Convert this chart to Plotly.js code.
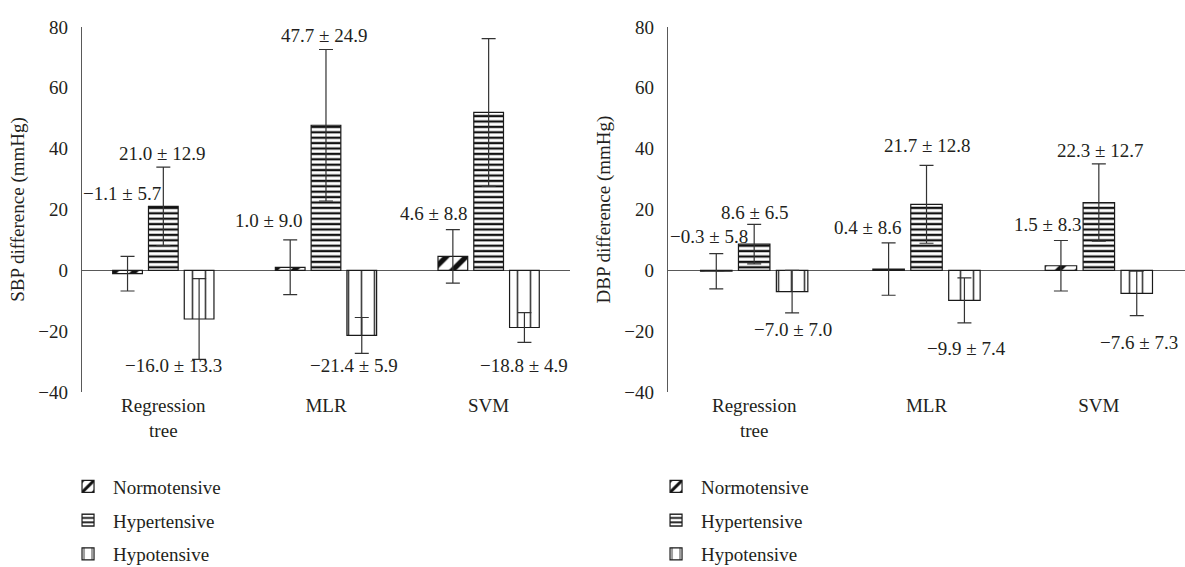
<!DOCTYPE html>
<html>
<head>
<meta charset="utf-8">
<script src="https://cdn.plot.ly/plotly-3.0.1.min.js"></script>
<style>html,body{margin:0;padding:0;background:#fff;}#chart{width:1185px;height:567px;}</style>
</head>
<body>
<div id="chart"></div>
<script>
// ---- data ----
const categories = ['Regression tree', 'MLR', 'SVM'];
const categoryLabels = ['Regression<br>tree', 'MLR', 'SVM'];
const seriesNames = ['Normotensive', 'Hypertensive', 'Hypotensive'];

const sbpNormo = [-1.1, 1.0, 4.6];
const sbpNormoSD = [5.7, 9.0, 8.8];
const sbpHyper = [21.0, 47.7, 51.9];
const sbpHyperSD = [12.9, 24.9, 24.3];
const sbpHypo = [-16.0, -21.4, -18.8];
const sbpHypoSD = [13.3, 5.9, 4.9];

const dbpNormo = [-0.3, 0.4, 1.5];
const dbpNormoSD = [5.8, 8.6, 8.3];
const dbpHyper = [8.6, 21.7, 22.3];
const dbpHyperSD = [6.5, 12.8, 12.7];
const dbpHypo = [-7.0, -9.9, -7.6];
const dbpHypoSD = [7.0, 7.4, 7.3];

const yTickVals = [-40, -20, 0, 20, 40, 60, 80];

// ---- label placement (pixel x offset from group centre, y in axis units) ----
const sbpLabelDx = [[-41, -57, -55], [-1, -2, 0], [10, 28, 35]];
const sbpLabelY  = [[25.3, 16.4, 18.8], [38.5, 77.3, 81.6], [-31.2, -31.2, -31.2]];
const dbpLabelDx = [[-45, -59, -51], [0, 0, 1], [39, 40, 40]];
const dbpLabelY  = [[11.2, 14.1, 15.1], [19.1, 41.1, 39.5], [-19.5, -25.7, -23.7]];

// ---- styles ----
const ink = '#231f20';
const axisGray = '#595959';
const FONT = 'Liberation Serif, Times New Roman, serif';
const patterns = [
  {shape: '/', size: 14, solidity: 0.38, fgcolor: '#111', bgcolor: '#fff', fillmode: 'replace'},
  {shape: '-', size: 5.4, solidity: 0.42, fgcolor: '#111', bgcolor: '#fff', fillmode: 'replace'},
  {shape: '|', size: 13, solidity: 0.13, fgcolor: '#222', fgopacity: 0.85, bgcolor: '#fff', fillmode: 'replace'}
];

const fmt = v => (v < 0 ? '\u2212' + Math.abs(v).toFixed(1) : v.toFixed(1));

function panel(vals, sds, xa, ya, legendId, dxs, ys) {
  const traces = [];
  const anns = [];
  vals.forEach((v, i) => {
    traces.push({
      type: 'bar', name: seriesNames[i], x: categories, y: v,
      xaxis: xa, yaxis: ya, legend: legendId, legendgroup: legendId + i,
      marker: {color: '#fff', pattern: patterns[i], line: {color: '#1a1a1a', width: 1.2}},
      error_y: {type: 'data', array: sds[i], visible: true, color: '#333', thickness: 1.2, width: 7},
      hoverinfo: 'skip'
    });
    v.forEach((val, j) => {
      anns.push({
        x: categories[j], y: ys[i][j], xref: xa, yref: ya,
        xshift: dxs[i][j], showarrow: false,
        text: fmt(val) + ' \u00b1 ' + sds[i][j].toFixed(1),
        font: {family: FONT, size: 19, color: ink}
      });
    });
  });
  return {traces, anns};
}

const left = panel([sbpNormo, sbpHyper, sbpHypo], [sbpNormoSD, sbpHyperSD, sbpHypoSD], 'x', 'y', 'legend', sbpLabelDx, sbpLabelY);
const right = panel([dbpNormo, dbpHyper, dbpHypo], [dbpNormoSD, dbpHyperSD, dbpHypoSD], 'x2', 'y2', 'legend2', dbpLabelDx, dbpLabelY);

const xBase = {
  type: 'category', range: [-0.5, 2.5], showline: false, showgrid: false, zeroline: false,
  ticks: '', tickvals: categories, ticktext: categoryLabels,
  tickfont: {family: FONT, size: 19, color: ink}, fixedrange: true
};
const yBase = {
  range: [-40, 80], tickvals: yTickVals, showgrid: false, showline: true, linecolor: axisGray, linewidth: 1.3,
  zeroline: true, zerolinecolor: axisGray, zerolinewidth: 1.3,
  ticks: 'outside', ticklen: 9, tickcolor: 'rgba(0,0,0,0)', tickfont: {family: FONT, size: 19, color: ink},
  tickformat: 'd'
};
const legendBase = {
  orientation: 'v', yanchor: 'top', xanchor: 'left', itemwidth: 40, tracegroupgap: 6,
  traceorder: 'grouped', font: {family: FONT, size: 19, color: ink}, bgcolor: 'rgba(0,0,0,0)'
};

const layout = {
  width: 1185, height: 567,
  margin: {l: 82, r: 0, t: 27, b: 175, autoexpand: false},
  paper_bgcolor: '#fff', plot_bgcolor: '#fff',
  font: {family: FONT, color: ink},
  barmode: 'group', bargap: 0.34, bargroupgap: 0.17,
  showlegend: true,
  xaxis: Object.assign({}, xBase, {domain: [0, 0.4424], anchor: 'y'}),
  xaxis2: Object.assign({}, xBase, {domain: [0.5313, 1], anchor: 'y2'}),
  yaxis: Object.assign({}, yBase, {anchor: 'x',
    title: {text: 'SBP difference (mmHg)', font: {family: FONT, size: 19, color: ink}, standoff: 8}}),
  yaxis2: Object.assign({}, yBase, {anchor: 'x2',
    title: {text: 'DBP difference (mmHg)', font: {family: FONT, size: 19, color: ink}, standoff: 8}}),
  legend: Object.assign({}, legendBase, {x: -0.0172, y: -0.207}),
  legend2: Object.assign({}, legendBase, {x: 0.5159, y: -0.207}),
  annotations: left.anns.concat(right.anns)
};

Plotly.newPlot('chart', left.traces.concat(right.traces), layout, {displayModeBar: false, staticPlot: true});
</script>
</body>
</html>
